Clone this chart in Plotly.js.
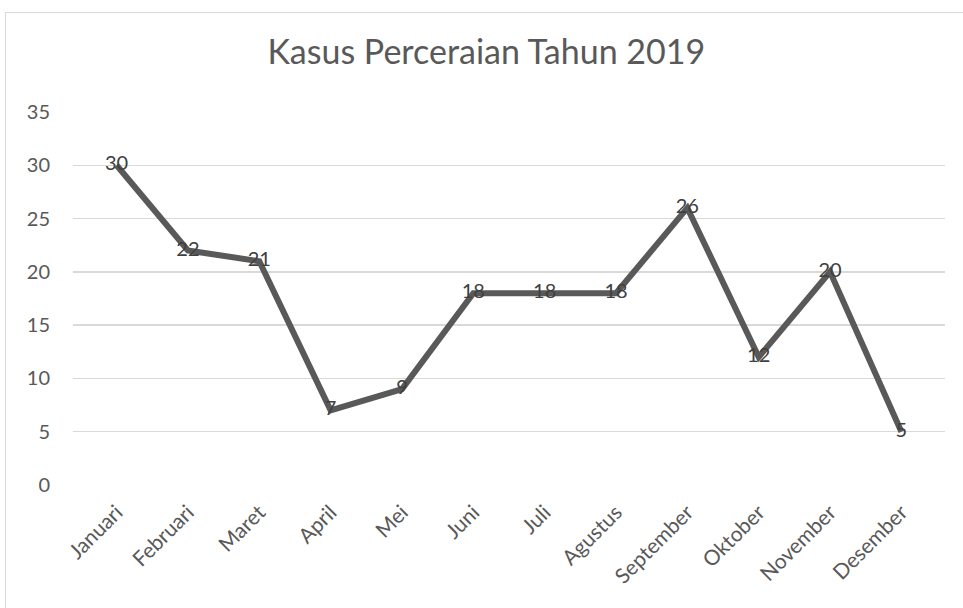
<!DOCTYPE html>
<html>
<head>
<meta charset="utf-8">
<script src="https://cdn.plot.ly/plotly-3.0.1.min.js"></script>
<style>
  html, body { margin: 0; padding: 0; background: #fff; }
  #wrap { position: relative; width: 963px; height: 608px; }
  #chart { position: absolute; left: 0; top: 0; width: 963px; height: 608px; }
  #frame { position: absolute; left: 5px; top: 12px; width: 970px; height: 620px; border: 1px solid #d9d9d9; pointer-events: none; }
</style>
</head>
<body>
<div id="wrap">
  <div id="chart"></div>
  <div id="frame"></div>
</div>
<script>
const months = ["Januari", "Februari", "Maret", "April", "Mei", "Juni", "Juli", "Agustus", "September", "Oktober", "November", "Desember"];
const cases = [30, 22, 21, 7, 9, 18, 18, 18, 26, 12, 20, 5];
const yTicks = [0, 5, 10, 15, 20, 25, 30, 35];

const FONT = "Lato, 'Open Sans', sans-serif";

const trace = {
  type: "scatter",
  mode: "lines+text",
  x: months,
  y: cases,
  text: cases.map(String),
  textposition: "middle center",
  textfont: { family: FONT, size: 20, color: "#404040" },
  line: { color: "#595959", width: 6 },
  hoverinfo: "x+y",
  cliponaxis: false
};

const layout = {
  width: 963,
  height: 608,
  margin: { l: 73, r: 18, t: 112, b: 123 },
  paper_bgcolor: "#ffffff",
  plot_bgcolor: "#ffffff",
  showlegend: false,
  title: {
    text: "Kasus Perceraian Tahun 2019",
    font: { family: FONT, size: 34, color: "#595959" },
    x: 0.505,
    xanchor: "center",
    y: 0.915,
    yanchor: "middle"
  },
  xaxis: {
    type: "category",
    tickangle: -45,
    tickfont: { family: FONT, size: 21, color: "#595959" },
    showgrid: false,
    zeroline: false,
    showline: false,
    ticks: "",
    ticklen: 0,
    ticklabelstandoff: 10
  },
  yaxis: {
    range: [0, 35],
    tickvals: yTicks,
    ticktext: yTicks.map(String),
    tickfont: { family: FONT, size: 20, color: "#595959" },
    showgrid: true,
    gridcolor: "#d9d9d9",
    gridwidth: 1.5,
    zeroline: false,
    showline: false,
    ticks: "",
    ticklabelstandoff: 22
  }
};

Plotly.newPlot("chart", [trace], layout, { displayModeBar: false, staticPlot: true });
</script>
</body>
</html>
